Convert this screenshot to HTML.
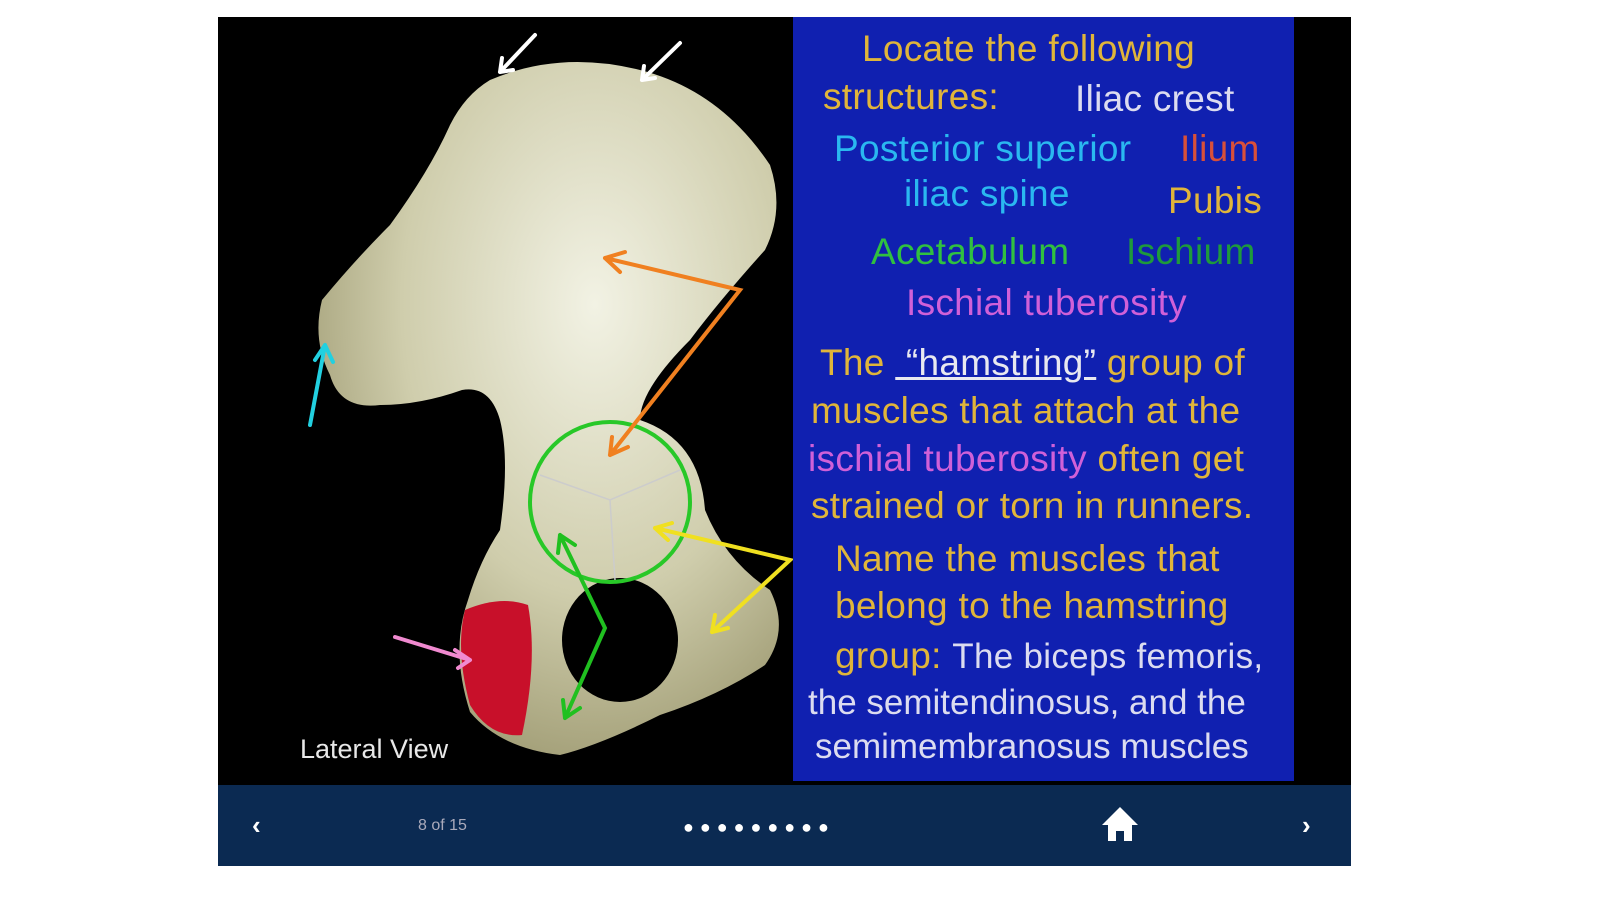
<!DOCTYPE html>
<html><head><meta charset="utf-8"><style>
body{margin:0;width:1599px;height:900px;background:#fff;position:relative;overflow:hidden;font-family:"Liberation Sans",sans-serif}
.a{position:absolute;white-space:nowrap;line-height:1}
.t{font-size:37px;letter-spacing:0.3px}
.y{color:#e0b53a}.w{color:#dcdcf0}.c{color:#2ab8f0}.r{color:#d8503a}.g{color:#30c040}.dg{color:#1e9a3c}.p{color:#d060d8}
</style></head><body>
<div class="a" style="left:218px;top:17px;width:1133px;height:768px;background:#000"></div>
<div class="a" style="left:793px;top:17px;width:501px;height:764px;background:#1020b0"></div>
<svg class="a" style="left:218px;top:17px" width="575" height="768" viewBox="218 17 575 768">
<defs><radialGradient id="bg" cx="0.6" cy="0.35" r="0.7"><stop offset="0" stop-color="#f2f2e4"/><stop offset="0.6" stop-color="#cfcdac"/><stop offset="1" stop-color="#9e9a72"/></radialGradient></defs>
<path d="M490 80 Q560 50 640 70 Q720 90 770 165 Q785 210 765 250 Q720 300 690 340 Q640 390 640 420 Q700 440 705 510 Q725 560 770 590 Q790 630 765 665 Q720 695 660 715 Q600 745 560 755 Q500 748 470 712 Q450 650 468 600 Q480 560 500 530 Q510 460 500 420 Q490 385 462 390 Q420 405 380 405 Q340 410 330 375 Q312 340 322 300 Q355 260 390 225 Q430 170 450 125 Q465 95 490 80Z" fill="url(#bg)"/>
<ellipse cx="620" cy="640" rx="58" ry="62" fill="#000"/>
<path d="M465 610 Q500 595 528 605 Q538 660 522 735 Q490 738 470 705 Q455 650 465 610Z" fill="#c8102a"/>
<circle cx="610" cy="502" r="80" fill="none" stroke="#28c828" stroke-width="4"/>
<path d="M540 475 L610 500 L680 470 M610 500 L615 580" stroke="#ccc" stroke-width="1.5" fill="none"/>
<g stroke-width="4" fill="none" stroke-linecap="round">
<path d="M500 72 L535 35 M500 72 L502 58 M500 72 L513 70" stroke="#fff"/>
<path d="M642 80 L680 43 M642 80 L644 66 M642 80 L655 78" stroke="#fff"/>
<path d="M310 425 L325 345 M325 345 L315 360 M325 345 L333 362" stroke="#22d0e0"/>
<path d="M605 258 L740 290 L610 455 M605 258 L625 252 M605 258 L620 272 M610 455 L612 437 M610 455 L628 447" stroke="#f08020"/>
<path d="M655 528 L790 560 L712 632 M655 528 L672 523 M655 528 L668 540 M712 632 L715 615 M712 632 L728 628" stroke="#f0e020"/>
<path d="M560 535 L605 628 L565 718 M560 535 L558 553 M560 535 L575 545 M565 718 L563 700 M565 718 L580 708" stroke="#20c020"/>
<path d="M395 637 L470 660 M470 660 L455 650 M470 660 L458 668" stroke="#f08ad0"/>
</g>
<text x="300" y="758" font-family="Liberation Sans" font-size="27" fill="#e8e8e8">Lateral View</text>
</svg>
<div class="a t y" style="left:862px;top:30px">Locate the following</div>
<div class="a t y" style="left:823px;top:78px">structures:</div>
<div class="a t w" style="left:1075px;top:80px">Iliac crest</div>
<div class="a t c" style="left:834px;top:130px">Posterior superior</div>
<div class="a t r" style="left:1180px;top:130px">Ilium</div>
<div class="a t c" style="left:904px;top:175px">iliac spine</div>
<div class="a t y" style="left:1168px;top:182px">Pubis</div>
<div class="a t g" style="left:871px;top:233px">Acetabulum</div>
<div class="a t dg" style="left:1126px;top:233px">Ischium</div>
<div class="a t p" style="left:906px;top:284px">Ischial tuberosity</div>
<div class="a t y" style="left:820px;top:344px">The <span style="color:#e8e8f0;text-decoration:underline">&nbsp;“hamstring”</span> group of</div>
<div class="a t y" style="left:811px;top:392px">muscles that attach at the</div>
<div class="a t y" style="left:808px;top:440px"><span class="p">ischial tuberosity</span> often get</div>
<div class="a t y" style="left:811px;top:487px">strained or torn in runners.</div>
<div class="a t y" style="left:835px;top:540px">Name the muscles that</div>
<div class="a t y" style="left:835px;top:587px">belong to the hamstring</div>
<div class="a t y" style="left:835px;top:637px">group: <span class="w" style="font-size:35px">The biceps femoris,</span></div>
<div class="a w" style="left:808px;top:685px;font-size:35px">the semitendinosus, and the</div>
<div class="a w" style="left:815px;top:729px;font-size:35px">semimembranosus muscles</div>
<div class="a" style="left:218px;top:785px;width:1133px;height:81px;background:#0b2a52"></div>
<div class="a" style="left:252px;top:812px;color:#fff;font-size:26px;font-weight:bold">‹</div>
<div class="a" style="left:1302px;top:812px;color:#fff;font-size:26px;font-weight:bold">›</div>
<div class="a" style="left:418px;top:818px;color:#aab;font-size:16px">8 of 15</div>
<div class="a" style="left:683px;top:818px;color:#fff;font-size:18px;letter-spacing:6px">●●●●●●●●●</div>
<svg class="a" style="left:1100px;top:805px" width="40" height="38"><path d="M20 2 L38 20 L32 20 L32 36 L24 36 L24 26 L16 26 L16 36 L8 36 L8 20 L2 20Z" fill="#fff"/></svg>
</body></html>
